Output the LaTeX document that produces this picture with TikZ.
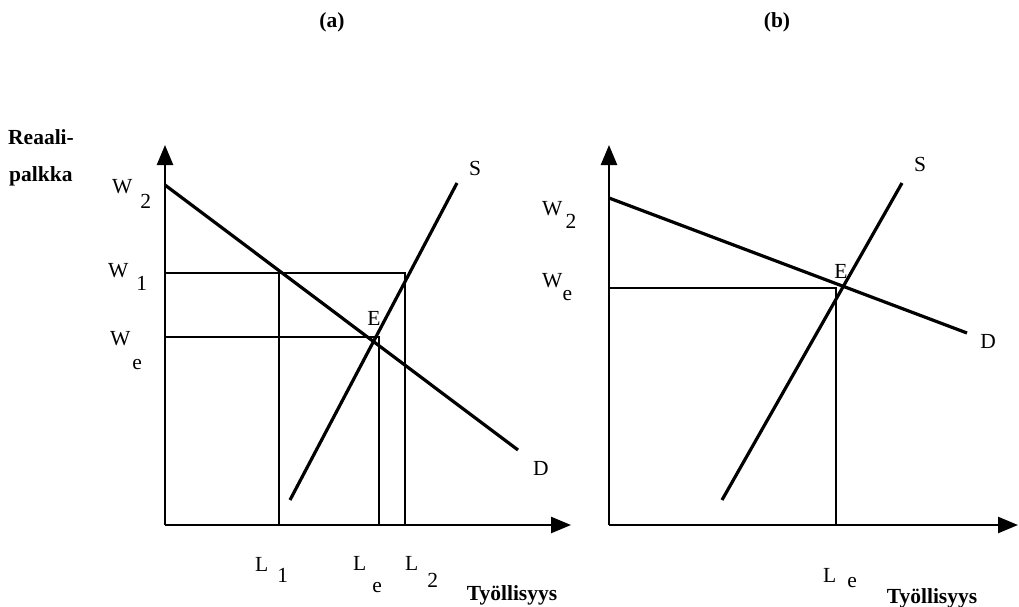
\documentclass[tikz,border=0pt]{standalone}
\usepackage{fontspec}
\setmainfont{Liberation Serif}
\usetikzlibrary{arrows.meta}
\tikzset{
  axisline/.style={line width=2.5pt, -{Triangle[length=20pt,width=16pt]}},
  curve/.style={line width=3.2pt},
  guide/.style={line width=2pt},
  lab/.style={inner sep=0pt, font=\fontsize{21.5}{24}\selectfont},
  blab/.style={inner sep=0pt, font=\fontsize{21.5}{24}\selectfont\bfseries},
}
\newcommand{\sublab}[7]{\node[lab, anchor=base west] (#1) at (#2) {#3\hspace{#5pt}\raisebox{-#6pt}{#4}}#7;}
\begin{document}
\begin{tikzpicture}[x=1pt,y=-1pt]
\useasboundingbox (0,0) rectangle (1019,607);
% ---------- panel (a) ----------
\coordinate (aO) at (165,525);
\coordinate (aYt) at (165,145);
\coordinate (aXt) at (571,525);
\draw[axisline] (aO) -- (aYt);
\draw[axisline] (aO) -- (aXt);
\coordinate (aD1) at (165,185);
\coordinate (aD2) at (518,450);
\coordinate (aS1) at (290,500);
\coordinate (aS2) at (457,183);
% guides
\coordinate (aW1) at (165,273);
\coordinate (aW1r) at (405,273);
\coordinate (aL1t) at (279,273);
\coordinate (aL1b) at (279,525);
\coordinate (aL2b) at (405,525);
\coordinate (aWe) at (165,337);
\coordinate (aWer) at (379,337);
\coordinate (aLeb) at (379,525);
\draw[guide] (aW1) -- (aW1r) -- (aL2b);
\draw[guide] (aL1t) -- (aL1b);
\draw[guide] (aWe) -- (aWer) -- (aLeb);
\draw[curve] (aD1) -- (aD2);
\draw[curve] (aS1) -- (aS2);
% labels
\node[blab] (ta) at (332,22) {(a)};
\node[blab, anchor=west] (ya1) at (8,137) {Reaali-};
\node[blab, anchor=west] (ya2) at (9,176) {palkka};
\sublab{lw2}{112,193}{W}{2}{8}{15}{}
\sublab{lw1}{108,277}{W}{1}{8}{13}{}
\sublab{lwe}{110,345}{W}{e}{2}{24}{}
\sublab{ll1}{255,571}{L}{1}{9}{11}{}
\sublab{lle}{353,570}{L}{e}{6}{22}{}
\sublab{ll2}{405,570}{L}{2}{9}{17}{}
\node[lab] (aS) at (475,168) {S};
\node[lab] (aD) at (541,468) {D};
\node[lab] (aE) at (374,318) {E};
\node[blab] (xa) at (512,595) {Työllisyys};
% ---------- panel (b) ----------
\coordinate (bO) at (609,525);
\coordinate (bYt) at (609,145);
\coordinate (bXt) at (1018,525);
\draw[axisline] (bO) -- (bYt);
\draw[axisline] (bO) -- (bXt);
\coordinate (bD1) at (609,198);
\coordinate (bD2) at (967,333);
\coordinate (bS1) at (722,500);
\coordinate (bS2) at (902,183);
\coordinate (bWe) at (609,288);
\coordinate (bWer) at (836,288);
\coordinate (bLeb) at (836,525);
\draw[guide] (bWe) -- (bWer) -- (bLeb);
\draw[curve] (bD1) -- (bD2);
\draw[curve] (bS1) -- (bS2);
\node[blab] (tb) at (777,22) {(b)};
\sublab{mw2}{542,215}{W}{2}{3}{13}{}
\sublab{mwe}{542,287}{W}{e}{0}{13}{}
\sublab{mle}{823,582}{L}{e}{11}{5}{}
\node[lab] (bS) at (920,164) {S};
\node[lab] (bD) at (988,341) {D};
\node[lab] (bE) at (841,271) {E};
\node[blab] (xb) at (932,598) {Työllisyys};
\end{tikzpicture}
\end{document}
